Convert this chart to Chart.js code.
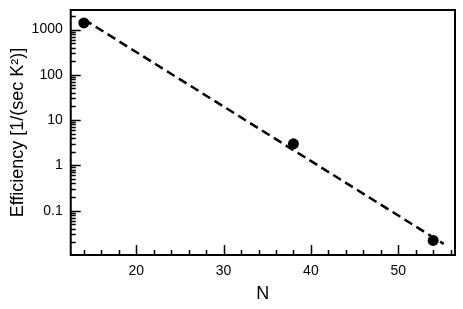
<!DOCTYPE html>
<html>
<head>
<meta charset="utf-8">
<script src="https://cdn.jsdelivr.net/npm/chart.js@4"></script>
<style>
html,body{margin:0;padding:0;background:#fff;}
canvas{display:block;}
</style>
</head>
<body>
<canvas id="c" width="463" height="309"></canvas>
<script>
const nValues = [14, 38, 54];
const efficiency = [1400, 3, 0.022];
const fitN = [14, 55.2];
const fitEfficiency = [1680, 0.0185];
const xTickValues = [20, 30, 40, 50];
const xTickLabels = ['20', '30', '40', '50'];
const yTickValues = [0.1, 1, 10, 100, 1000];
const yTickLabels = ['0.1', '1', '10', '100', '1000'];
const xTitle = 'N';
const yTitle = 'Efficiency [1/(sec K\u00B2)]';

const FONT = "'Liberation Sans', Arial, Helvetica, sans-serif";

const framePlugin = {
  id: 'frame',
  afterDatasetsDraw(chart) {
    const ctx = chart.ctx;
    const a = chart.chartArea;
    const xs = chart.scales.x, ys = chart.scales.y;
    ctx.save();
    ctx.strokeStyle = '#000';
    ctx.lineWidth = 2;
    ctx.strokeRect(a.left, a.top, a.right - a.left, a.bottom - a.top);
    ctx.lineWidth = 1.5;
    ctx.beginPath();
    for (let v = Math.ceil(xs.min / 2) * 2; v <= xs.max; v += 2) {
      const px = Math.round(xs.getPixelForValue(v)) + 0.5;
      const len = xTickValues.includes(v) ? 10 : 5;
      ctx.moveTo(px, a.bottom);
      ctx.lineTo(px, a.bottom - len);
    }
    for (let d = 0.001; d <= 10000; d *= 10) {
      for (let k = 1; k <= 9; k++) {
        const v = k * d;
        if (v < ys.min || v > ys.max) continue;
        const py = Math.round(ys.getPixelForValue(v)) + 0.5;
        const len = k === 1 ? 10 : 5;
        ctx.moveTo(a.left, py);
        ctx.lineTo(a.left + len, py);
      }
    }
    ctx.stroke();
    ctx.restore();
  }
};

new Chart(document.getElementById('c'), {
  type: 'scatter',
  data: {
    datasets: [
      {
        data: fitN.map((n, i) => ({x: n, y: fitEfficiency[i]})),
        showLine: true,
        borderColor: '#000',
        borderWidth: 2.5,
        borderDash: [9, 5],
        pointRadius: 0,
        fill: false
      },
      {
        data: nValues.map((n, i) => ({x: n, y: efficiency[i]})),
        showLine: false,
        pointRadius: 5.5,
        pointBackgroundColor: '#000',
        pointBorderColor: '#000',
        pointBorderWidth: 0
      }
    ]
  },
  options: {
    responsive: false,
    devicePixelRatio: 1,
    animation: false,
    layout: {autoPadding: false, padding: {top: 10, right: 8, left: 7, bottom: 4}},
    plugins: {legend: {display: false}, tooltip: {enabled: false}},
    scales: {
      x: {
        type: 'linear',
        min: 12.5,
        max: 56.5,
        afterBuildTicks: s => { s.ticks = xTickValues.map(v => ({value: v})); },
        afterFit: s => { s.paddingLeft = 0; s.paddingRight = 0; },
        grid: {display: false, drawTicks: false},
        border: {display: false},
        ticks: {
          padding: 8,
          color: '#000',
          font: {family: FONT, size: 14},
          callback: v => xTickLabels[xTickValues.indexOf(v)],
          maxRotation: 0
        },
        title: {display: true, text: xTitle, color: '#000', font: {family: FONT, size: 18}, padding: {top: -4.4, bottom: 0}}
      },
      y: {
        type: 'logarithmic',
        min: 0.0105,
        max: 2700,
        afterBuildTicks: s => { s.ticks = yTickValues.map(v => ({value: v})); },
        afterFit: s => { s.paddingTop = 0; s.paddingBottom = 0; },
        grid: {display: false, drawTicks: false},
        border: {display: false},
        ticks: {
          padding: 8,
          color: '#000',
          font: {family: FONT, size: 14},
          callback: v => yTickLabels[yTickValues.indexOf(v)]
        },
        title: {display: true, text: yTitle, color: '#000', font: {family: FONT, size: 18}, padding: {top: 0, bottom: -5}}
      }
    }
  },
  plugins: [framePlugin]
});
</script>
</body>
</html>
